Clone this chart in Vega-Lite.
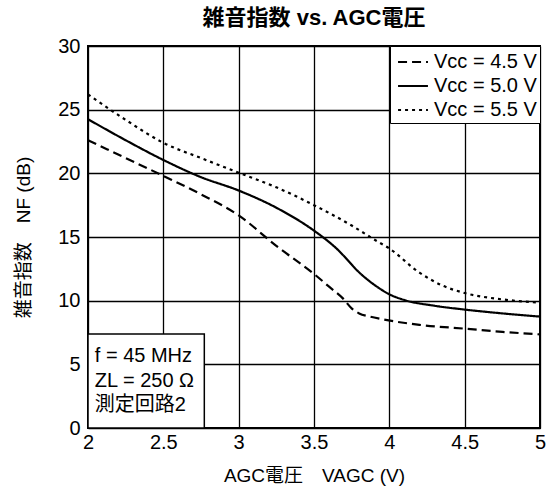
{
  "$schema": "https://vega.github.io/schema/vega-lite/v6.json",
  "autosize": {"type": "none"},
  "padding": {"left": 88, "top": 46, "right": 9, "bottom": 63},
  "width": 452,
  "height": 382,
  "title": {"text": "雑音指数  vs.  AGC電圧", "fontSize": 22, "fontWeight": "bold", "font": "Liberation Sans, Noto Sans CJK JP", "offset": 6, "color": "black"},
  "config": {
    "font": "Liberation Sans, Noto Sans CJK JP",
    "view": {"stroke": "black", "strokeWidth": 2},
    "axis": {"grid": true, "gridColor": "black", "gridOpacity": 1, "gridWidth": 1.3, "domain": false, "ticks": false, "labelFontSize": 20, "labelColor": "black", "titleFontSize": 19, "titleFontWeight": "normal", "titleColor": "black"}
  },
  "datasets": {
    "curves": [
      {"s": "Vcc = 4.5 V", "x": 2, "y": 22.6}, {"s": "Vcc = 4.5 V", "x": 2.25, "y": 21.2}, {"s": "Vcc = 4.5 V", "x": 2.5, "y": 19.8}, {"s": "Vcc = 4.5 V", "x": 2.75, "y": 18.35}, {"s": "Vcc = 4.5 V", "x": 3, "y": 16.7}, {"s": "Vcc = 4.5 V", "x": 3.25, "y": 14.3}, {"s": "Vcc = 4.5 V", "x": 3.5, "y": 12.1}, {"s": "Vcc = 4.5 V", "x": 3.6, "y": 11.1}, {"s": "Vcc = 4.5 V", "x": 3.69, "y": 10.2}, {"s": "Vcc = 4.5 V", "x": 3.75, "y": 9.4}, {"s": "Vcc = 4.5 V", "x": 3.8, "y": 9.0}, {"s": "Vcc = 4.5 V", "x": 3.87, "y": 8.75}, {"s": "Vcc = 4.5 V", "x": 3.95, "y": 8.55}, {"s": "Vcc = 4.5 V", "x": 4.2, "y": 8.1}, {"s": "Vcc = 4.5 V", "x": 4.5, "y": 7.8}, {"s": "Vcc = 4.5 V", "x": 4.75, "y": 7.55}, {"s": "Vcc = 4.5 V", "x": 5, "y": 7.35},
      {"s": "Vcc = 5.0 V", "x": 2, "y": 24.25}, {"s": "Vcc = 5.0 V", "x": 2.25, "y": 22.6}, {"s": "Vcc = 5.0 V", "x": 2.5, "y": 21.05}, {"s": "Vcc = 5.0 V", "x": 2.75, "y": 19.7}, {"s": "Vcc = 5.0 V", "x": 3, "y": 18.65}, {"s": "Vcc = 5.0 V", "x": 3.25, "y": 17.3}, {"s": "Vcc = 5.0 V", "x": 3.5, "y": 15.5}, {"s": "Vcc = 5.0 V", "x": 3.64, "y": 14.2}, {"s": "Vcc = 5.0 V", "x": 3.82, "y": 12.0}, {"s": "Vcc = 5.0 V", "x": 3.93, "y": 11.0}, {"s": "Vcc = 5.0 V", "x": 4, "y": 10.5}, {"s": "Vcc = 5.0 V", "x": 4.1, "y": 10.05}, {"s": "Vcc = 5.0 V", "x": 4.3, "y": 9.6}, {"s": "Vcc = 5.0 V", "x": 4.5, "y": 9.3}, {"s": "Vcc = 5.0 V", "x": 4.75, "y": 9.0}, {"s": "Vcc = 5.0 V", "x": 5, "y": 8.75},
      {"s": "Vcc = 5.5 V", "x": 2, "y": 26.2}, {"s": "Vcc = 5.5 V", "x": 2.25, "y": 24.2}, {"s": "Vcc = 5.5 V", "x": 2.5, "y": 22.4}, {"s": "Vcc = 5.5 V", "x": 2.75, "y": 21.2}, {"s": "Vcc = 5.5 V", "x": 3, "y": 20.05}, {"s": "Vcc = 5.5 V", "x": 3.25, "y": 18.9}, {"s": "Vcc = 5.5 V", "x": 3.5, "y": 17.5}, {"s": "Vcc = 5.5 V", "x": 3.75, "y": 15.9}, {"s": "Vcc = 5.5 V", "x": 3.9, "y": 14.8}, {"s": "Vcc = 5.5 V", "x": 4, "y": 14.1}, {"s": "Vcc = 5.5 V", "x": 4.2, "y": 12.2}, {"s": "Vcc = 5.5 V", "x": 4.35, "y": 11.2}, {"s": "Vcc = 5.5 V", "x": 4.5, "y": 10.6}, {"s": "Vcc = 5.5 V", "x": 4.75, "y": 10.1}, {"s": "Vcc = 5.5 V", "x": 5, "y": 9.85}
    ],
    "box": [{"x1": 2, "x2": 2.772, "y1": 0, "y2": 7.38}],
    "notes": [
      {"x": 2.045, "y": 5.65, "t": "f = 45 MHz"},
      {"x": 2.045, "y": 3.7, "t": "ZL = 250 Ω"},
      {"x": 2.045, "y": 1.8, "t": "測定回路2"}
    ]
  },
  "layer": [
    {
      "data": {"name": "box"},
      "mark": {"type": "rect", "fill": "white", "stroke": "black", "strokeWidth": 1.5},
      "encoding": {
        "x": {"field": "x1", "type": "quantitative", "scale": {"domain": [2, 5], "nice": false}, "axis": {"values": [2, 2.5, 3, 3.5, 4, 4.5, 5], "format": "~g", "title": "AGC電圧　VAGC (V)", "labelPadding": 4, "titlePadding": 14, "labelFlush": false}},
        "x2": {"field": "x2"},
        "y": {"field": "y1", "type": "quantitative", "scale": {"domain": [0, 30], "nice": false}, "axis": {"values": [0, 5, 10, 15, 20, 25, 30], "title": "雑音指数　NF (dB)", "labelPadding": 8, "titlePadding": 24, "labelFlush": false}},
        "y2": {"field": "y2"}
      }
    },
    {
      "data": {"name": "notes"},
      "mark": {"type": "text", "align": "left", "baseline": "middle", "fontSize": 20, "color": "black"},
      "encoding": {
        "x": {"field": "x", "type": "quantitative"},
        "y": {"field": "y", "type": "quantitative"},
        "text": {"field": "t"}
      }
    },
    {
      "data": {"name": "curves"},
      "mark": {"type": "line", "color": "black", "strokeWidth": 2.2, "interpolate": "monotone"},
      "encoding": {
        "x": {"field": "x", "type": "quantitative"},
        "y": {"field": "y", "type": "quantitative"},
        "strokeDash": {"field": "s", "type": "nominal", "scale": {"domain": ["Vcc = 4.5 V", "Vcc = 5.0 V", "Vcc = 5.5 V"], "range": [[9, 5], [1, 0], [3, 4]]},
          "legend": {"title": null, "orient": "top-right", "offset": 0, "strokeColor": "black", "fillColor": "white", "padding": 3, "labelFontSize": 20, "labelColor": "black", "symbolType": "M-1.3,0H1.3", "symbolSize": 529, "symbolOffset": 7, "symbolStrokeWidth": 2.2, "symbolStrokeColor": "black", "symbolFillColor": "transparent", "rowPadding": 1, "labelOffset": 8}
        }
      }
    }
  ]
}
